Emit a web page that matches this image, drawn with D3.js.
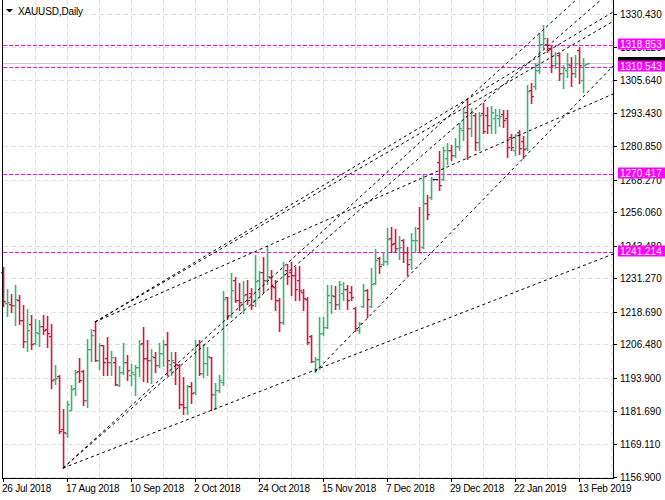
<!DOCTYPE html>
<html><head><meta charset="utf-8">
<script src="https://cdn.jsdelivr.net/npm/d3@7"></script>
<style>
body{margin:0;background:#fff}
svg{display:block}
text{font-family:"Liberation Sans",Arial,sans-serif;font-size:10px}
</style>
</head><body>
<svg id="chart" width="665" height="500"></svg>
<script>
// ---- DATA (XAUUSD daily bars) ----
const opens = [1233.6,1222.2,1221.8,1221.2,1223.3,1215.8,1207.6,1214.0,1207.0,1210.8,1213.5,1212.3,1209.8,1193.4,1194.5,1174.6,1173.1,1182.0,1190.3,1196.4,1196.5,1185.5,1204.9,1211.8,1200.5,1206.1,1201.3,1199.9,1199.9,1191.4,1196.1,1199.9,1194.9,1195.5,1198.0,1207.0,1201.5,1200.8,1201.8,1198.6,1203.3,1206.8,1199.3,1199.9,1198.6,1184.0,1183.0,1190.8,1188.5,1206.5,1195.7,1199.5,1201.6,1187.7,1189.2,1192.3,1224.1,1217.4,1230.6,1223.3,1221.8,1225.3,1225.8,1223.0,1230.6,1233.7,1230.6,1231.6,1228.0,1223.0,1214.8,1234.3,1233.6,1232.4,1230.6,1226.0,1223.7,1209.5,1200.1,1200.9,1210.8,1213.0,1222.4,1224.5,1221.5,1225.6,1227.4,1226.2,1220.0,1211.8,1220.8,1226.8,1220.8,1229.4,1238.8,1236.6,1237.7,1246.3,1244.4,1242.6,1245.8,1241.2,1238.7,1245.6,1250.0,1243.1,1259.6,1261.6,1268.5,1275.0,1268.6,1276.4,1279.4,1277.5,1280.9,1286.9,1293.8,1287.5,1292.5,1282.5,1293.2,1292.5,1288.8,1291.4,1291.4,1292.9,1291.4,1284.3,1279.4,1286.0,1282.7,1280.2,1301.9,1303.4,1309.4,1319.2,1319.1,1317.6,1311.3,1315.0,1308.3,1309.4,1311.3,1308.3,1316.9,1305.7,1311.7];
const highs = [1235.5,1227.4,1225.3,1228.7,1224.9,1221.2,1219.9,1217.7,1216.2,1215.8,1217.4,1217.0,1214.0,1198.9,1194.9,1182.1,1185.1,1191.1,1197.0,1201.5,1196.8,1208.7,1212.4,1214.9,1207.2,1206.4,1209.3,1203.9,1201.8,1198.4,1207.2,1202.4,1199.3,1198.6,1208.3,1213.0,1208.3,1204.9,1203.6,1207.0,1208.3,1211.1,1203.6,1203.6,1199.3,1194.2,1191.4,1192.4,1208.3,1208.3,1206.8,1205.5,1201.8,1192.0,1194.9,1226.5,1224.3,1233.3,1231.8,1229.5,1230.3,1230.8,1227.8,1239.9,1234.0,1239.1,1243.3,1234.3,1230.8,1223.8,1237.3,1236.8,1237.4,1235.5,1235.8,1227.1,1224.1,1209.9,1201.8,1216.8,1216.8,1228.7,1228.7,1228.3,1230.3,1229.9,1228.7,1228.3,1220.5,1214.9,1229.1,1227.4,1235.3,1242.1,1239.3,1241.2,1250.0,1250.6,1249.6,1247.1,1246.2,1243.1,1248.1,1250.6,1258.1,1270.0,1262.5,1269.3,1268.5,1279.1,1280.6,1282.1,1281.2,1284.1,1289.4,1295.0,1298.4,1295.0,1293.2,1293.8,1296.9,1295.6,1295.9,1294.7,1294.7,1294.4,1294.4,1285.6,1285.6,1286.9,1284.7,1303.8,1304.4,1311.9,1323.2,1326.3,1321.3,1318.8,1316.3,1315.7,1311.3,1315.7,1314.4,1315.0,1318.2,1314.0,1312.2];
const lows = [1220.9,1217.1,1218.7,1213.7,1214.3,1205.5,1204.0,1204.9,1206.5,1205.8,1210.5,1205.5,1190.1,1191.5,1173.1,1160.1,1171.7,1181.7,1187.4,1192.4,1183.6,1183.0,1200.1,1200.1,1197.1,1194.9,1194.9,1194.9,1191.1,1190.9,1195.5,1193.3,1191.1,1187.4,1194.5,1192.6,1192.4,1192.0,1196.1,1198.0,1198.4,1194.9,1194.9,1191.8,1182.8,1180.5,1180.5,1184.5,1187.7,1194.9,1194.2,1194.9,1181.7,1182.4,1188.5,1191.1,1216.2,1216.8,1222.4,1219.3,1218.1,1221.8,1219.9,1220.8,1224.3,1226.2,1229.3,1223.7,1219.3,1211.5,1214.3,1229.3,1224.9,1223.0,1223.0,1219.3,1206.8,1199.9,1196.1,1197.4,1209.9,1212.8,1218.1,1219.6,1219.6,1223.3,1219.9,1223.3,1211.5,1210.9,1220.5,1216.8,1220.4,1229.3,1233.1,1236.2,1236.8,1241.2,1241.2,1238.7,1237.4,1232.4,1234.6,1241.2,1241.1,1242.5,1253.7,1261.2,1268.5,1264.3,1268.1,1274.1,1275.6,1276.9,1279.4,1283.1,1275.9,1284.6,1279.4,1279.4,1285.9,1285.9,1285.9,1285.9,1288.4,1288.0,1276.9,1279.4,1277.5,1277.8,1276.3,1279.4,1296.9,1302.2,1308.2,1317.6,1316.3,1308.8,1310.0,1305.7,1302.5,1306.9,1303.5,1306.9,1304.4,1301.3,1311.5];
const closes = [1222.7,1222.4,1221.2,1223.7,1215.8,1207.6,1212.0,1206.8,1211.1,1213.3,1211.8,1210.9,1193.3,1194.0,1173.9,1173.5,1184.0,1189.9,1196.0,1193.0,1185.5,1204.9,1210.2,1200.5,1206.1,1199.9,1199.9,1201.8,1191.5,1196.1,1199.9,1196.8,1196.1,1198.0,1206.8,1201.5,1200.8,1202.0,1198.6,1203.3,1206.8,1200.5,1200.5,1199.0,1184.0,1183.0,1190.8,1188.2,1206.1,1195.7,1199.5,1202.0,1187.7,1189.2,1193.0,1223.7,1217.4,1226.8,1223.3,1222.4,1224.9,1223.3,1221.2,1230.3,1233.7,1230.6,1232.1,1228.3,1223.0,1214.8,1232.8,1232.1,1232.4,1227.1,1226.8,1223.8,1207.4,1200.1,1200.9,1210.8,1213.0,1224.9,1224.9,1221.5,1229.1,1227.4,1223.3,1224.3,1212.5,1214.5,1226.8,1223.7,1229.3,1238.3,1235.8,1237.7,1246.2,1244.3,1242.8,1243.1,1241.2,1236.8,1245.8,1245.8,1241.2,1259.4,1255.3,1268.5,1268.5,1266.2,1279.4,1279.4,1277.5,1280.9,1287.6,1293.6,1287.5,1293.6,1282.5,1292.5,1286.5,1288.8,1293.6,1292.5,1292.1,1290.6,1280.6,1280.6,1285.0,1280.1,1279.7,1301.5,1299.6,1309.4,1319.1,1321.4,1317.6,1311.3,1312.0,1308.2,1310.2,1311.6,1308.2,1312.0,1311.3,1311.3,1311.9];
const dateLabels = ["26 Jul 2018","17 Aug 2018","10 Sep 2018","2 Oct 2018","24 Oct 2018","15 Nov 2018","7 Dec 2018","29 Dec 2018","22 Jan 2019","13 Feb 2019"];
const priceTicks = [1330.430,1318.220,1305.640,1293.430,1280.850,1268.270,1256.060,1243.480,1231.270,1218.690,1206.480,1193.900,1181.690,1169.110,1156.900];
const levelPrices = [1318.853,1310.543,1270.417,1241.214];
const bidPrice = 1311.92;
// trendline anchors: [bar1, price1, bar2, price2] (rays to the right)
const trendLines = [
  [15,1160.1,52,1181.7],
  [15,1160.1,116,1298.4],
  [15,1160.1,114,1289.4],
  [23,1214.9,66,1243.3],
  [23,1214.9,116,1298.4],
  [23,1214.9,115,1295.0],
  [78,1196.1,140,1291.6]
];

// ---- LAYOUT ----
const W=665,H=500, L=2, R=613, T=0, B=478;
const svg=d3.select("#chart");
svg.append("rect").attr("width",W).attr("height",H).attr("fill","#fff");
const x=d3.scaleLinear().domain([0,152.5]).range([3,613]);
const y=d3.scaleLinear().domain([1156.9,1330.43]).range([476.6,14]);
const px=v=>Math.round(v);

svg.append("defs").append("clipPath").attr("id","clip")
  .append("rect").attr("x",L+1).attr("y",T).attr("width",R-L-1).attr("height",B-T);

// grid
const grid=svg.append("g").attr("stroke","#e0e0e0").attr("stroke-dasharray","5,3").attr("shape-rendering","crispEdges");
priceTicks.forEach(p=>{
  grid.append("line").attr("x1",L+1).attr("x2",R).attr("y1",px(y(p))+0.5).attr("y2",px(y(p))+0.5);
});
d3.range(8,153,8).forEach(i=>{
  grid.append("line").attr("y1",T).attr("y2",B).attr("x1",px(x(i))+0.5).attr("x2",px(x(i))+0.5);
});

// bid line
svg.append("line").attr("x1",L+1).attr("x2",R).attr("y1",px(y(bidPrice))+0.5).attr("y2",px(y(bidPrice))+0.5)
  .attr("stroke","#c8c8c8").attr("shape-rendering","crispEdges");

// horizontal levels
const lv=svg.append("g").attr("stroke","#ff00ff").attr("stroke-dasharray","4,2").attr("shape-rendering","crispEdges");
levelPrices.forEach(p=>{
  lv.append("line").attr("x1",L+1).attr("x2",R).attr("y1",px(y(p))+0.5).attr("y2",px(y(p))+0.5);
});

// bars
const bars=svg.append("g");
opens.forEach((o,i)=>{
  const c=closes[i], h=highs[i], l=lows[i];
  const col = c>o ? "#3cb371" : (c<o ? "#dc143c" : "#0000c8");
  const cx=px(x(i));
  const yh=px(y(h)), yl=px(y(l)), yo=px(y(o)), yc=px(y(c));
  const g=bars.append("g").attr("fill",col);
  g.append("rect").attr("x",cx-0.25).attr("y",yh).attr("width",1.6).attr("height",Math.max(1,yl-yh+1));
  g.append("rect").attr("x",cx-2).attr("y",yo).attr("width",2).attr("height",1.3);
  g.append("rect").attr("x",cx+1).attr("y",yc).attr("width",2).attr("height",1.3);
});

// trend lines (rays)
const tl=svg.append("g").attr("clip-path","url(#clip)").attr("stroke","#000").attr("stroke-dasharray","3,3").attr("fill","none");
trendLines.forEach(([b1,p1,b2,p2])=>{
  const s=(p2-p1)/(b2-b1);
  const bEnd=160;
  tl.append("line").attr("x1",x(b1)).attr("y1",y(p1)).attr("x2",x(bEnd)).attr("y2",y(p1+s*(bEnd-b1)));
});

// frame
const fr=svg.append("g").attr("stroke","#000").attr("shape-rendering","crispEdges");
fr.append("line").attr("x1",L+0.5).attr("x2",L+0.5).attr("y1",T).attr("y2",B+1);
fr.append("line").attr("x1",L).attr("x2",R+1).attr("y1",B+0.5).attr("y2",B+0.5);
fr.append("line").attr("x1",R+0.5).attr("x2",R+0.5).attr("y1",T).attr("y2",B+1);

// price axis
const ax=svg.append("g");
priceTicks.forEach(p=>{
  const yy=px(y(p))+0.5;
  ax.append("line").attr("x1",R+1).attr("x2",R+4).attr("y1",yy).attr("y2",yy).attr("stroke","#000").attr("shape-rendering","crispEdges");
  ax.append("text").attr("x",620).attr("y",yy).attr("dy","0.35em").attr("fill","#000").text(p.toFixed(3));
});
// bid marker (black, mostly hidden), then level labels
const bl=px(y(bidPrice));
ax.append("rect").attr("x",618).attr("y",bl-6).attr("width",47).attr("height",12).attr("fill","#000");
levelPrices.forEach(p=>{
  const yy=px(y(p))-1;
  ax.append("rect").attr("x",618).attr("y",yy-5.5).attr("width",47).attr("height",11).attr("fill","#ff00ff");
  ax.append("text").attr("x",620).attr("y",yy).attr("dy","0.35em").attr("fill","#fff").text(p.toFixed(3));
});

// time axis
dateLabels.forEach((d,k)=>{
  const xx=px(x(k*16));
  svg.append("line").attr("x1",xx+0.5).attr("x2",xx+0.5).attr("y1",B+1).attr("y2",B+4).attr("stroke","#000").attr("shape-rendering","crispEdges");
  svg.append("text").attr("x",Math.max(2,xx-1)).attr("y",492).attr("letter-spacing","-0.25px").attr("fill","#000").text(d);
});

// title
svg.append("path").attr("d","M6,9 L13,9 L9.5,12.5 Z").attr("fill","#000");
svg.append("text").attr("x",18).attr("y",15).attr("letter-spacing","-0.15px").attr("fill","#000").text("XAUUSD,Daily");
</script>
</body></html>
